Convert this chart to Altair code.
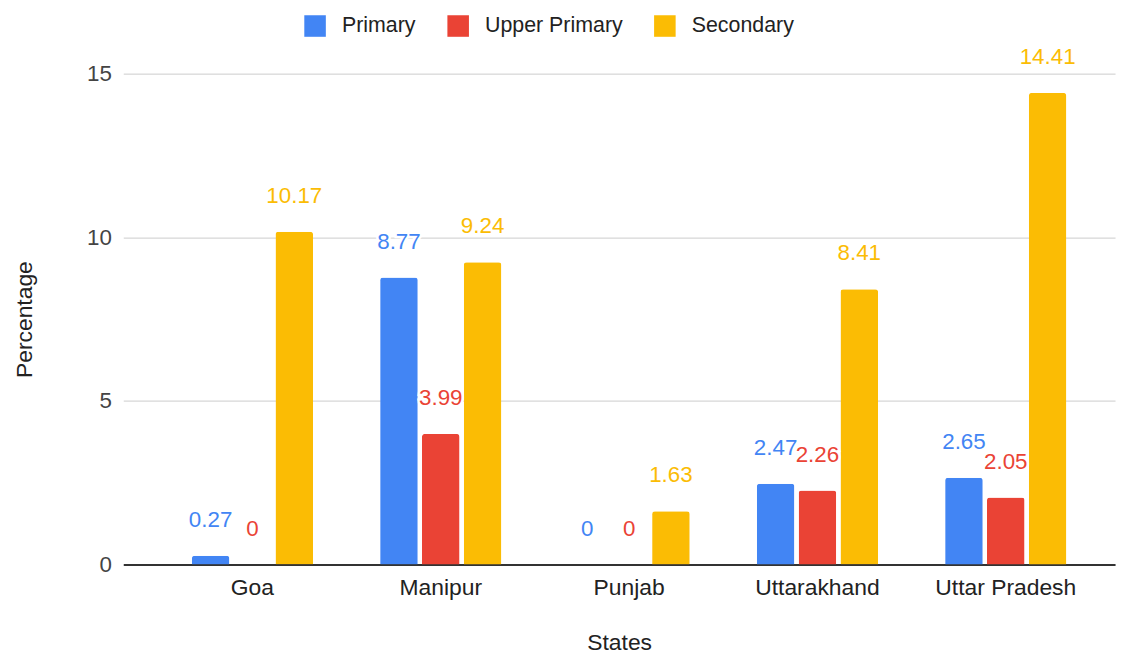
import altair as alt
import pandas as pd

states = ["Goa", "Manipur", "Punjab", "Uttarakhand", "Uttar Pradesh"]
levels = ["Primary", "Upper Primary", "Secondary"]
primary = [0.27, 8.77, 0, 2.47, 2.65]
upper_primary = [0, 3.99, 0, 2.26, 2.05]
secondary = [10.17, 9.24, 1.63, 8.41, 14.41]
colors = ["#4285F4", "#EA4335", "#FBBC04"]
y_ticks = [0, 5, 10, 15]

rows = []
for series, name in zip([primary, upper_primary, secondary], levels):
    for s, v in zip(states, series):
        rows.append({"State": s, "Level": name, "Value": v, "Label": f"{v:g}"})
df = pd.DataFrame(rows)

FONT = "Liberation Sans"

x = alt.X("State:N", sort=states, title="States",
          scale=alt.Scale(paddingInner=0.356, paddingOuter=0.311, align=0.585),
          axis=alt.Axis(labelAngle=0, labelFontSize=23, labelColor="#222222", labelPadding=12,
                        ticks=False, domainColor="#333333", domainWidth=2,
                        titleFontSize=23, titleFontWeight="normal", titleColor="#222222",
                        titlePadding=32, labelFont=FONT, titleFont=FONT))
xo = alt.XOffset("Level:N", sort=levels, scale=alt.Scale(paddingInner=0.1, paddingOuter=0))
y = alt.Y("Value:Q", title="Percentage",
          scale=alt.Scale(domain=[0, 15], nice=False),
          axis=alt.Axis(values=y_ticks, labelFontSize=22.5, labelColor="#444444", labelPadding=12,
                        ticks=False, domain=False, gridColor="#cccccc", gridWidth=1,
                        titleFontSize=23, titleFontWeight="normal", titleColor="#222222",
                        titlePadding=50, labelFont=FONT, titleFont=FONT))
color = alt.Color("Level:N", sort=levels,
                  scale=alt.Scale(domain=levels, range=colors),
                  legend=alt.Legend(title=None, orient="none", legendX=182, legendY=-59,
                                    direction="horizontal", symbolType="square",
                                    symbolSize=470, symbolStrokeWidth=0,
                                    labelFontSize=21.5, labelColor="#222222", labelFont=FONT,
                                    labelOffset=16, columnPadding=31))

base = alt.Chart(df)
bars = base.mark_bar(cornerRadiusTopLeft=3, cornerRadiusTopRight=3).encode(
    x=x, xOffset=xo, y=y, color=color)
halo = base.mark_text(dy=-36, baseline="middle", fontSize=22.5, font=FONT,
                      color="white", stroke="white", strokeWidth=5).encode(
    x=x, xOffset=xo, y=y, text="Label:N")
labels = base.mark_text(dy=-36, baseline="middle", fontSize=22.5, font=FONT).encode(
    x=x, xOffset=xo, y=y, text="Label:N", color=color)

chart = alt.layer(bars, halo, labels).properties(width=998, height=494).configure_view(stroke=None)
chart.save("out.html", embed_options={"renderer": "svg", "actions": False})
